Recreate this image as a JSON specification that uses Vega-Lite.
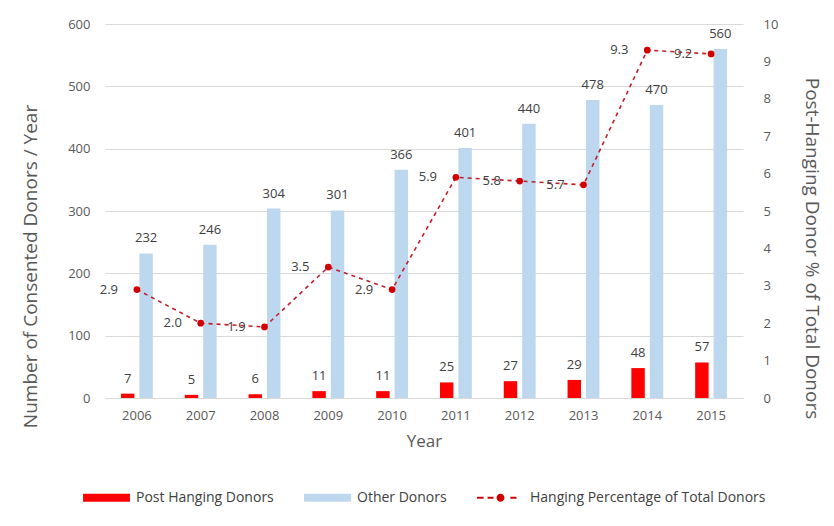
{
  "$schema": "https://vega.github.io/schema/vega-lite/v6.json",
  "width": 638,
  "height": 374,
  "autosize": {"type": "none"},
  "padding": {"left": 105, "top": 24, "right": 91, "bottom": 128},
  "background": "white",
  "config": {
    "font": "Open Sans",
    "view": {"stroke": null},
    "axis": {
      "labelFont": "Open Sans",
      "labelColor": "#595959",
      "labelFontSize": 13,
      "titleFont": "Open Sans",
      "titleColor": "#595959",
      "titleFontSize": 19,
      "titleFontWeight": "normal",
      "ticks": false,
      "domain": false,
      "grid": false
    },
    "legend": {
      "orient": "bottom",
      "direction": "horizontal",
      "layout": {"bottom": {"anchor": "middle"}},
      "labelFont": "Open Sans",
      "labelFontSize": 14,
      "labelColor": "#404040",
      "labelLimit": 400,
      "symbolSize": 2200,
      "symbolOpacity": 1,
      "symbolStrokeWidth": 0,
      "columnPadding": 30,
      "labelOffset": 6,
      "offset": 25
    }
  },
  "datasets": {
    "bars": [
      {"year": "2006", "series": "Post Hanging Donors", "count": 7},
      {"year": "2006", "series": "Other Donors", "count": 232},
      {"year": "2007", "series": "Post Hanging Donors", "count": 5},
      {"year": "2007", "series": "Other Donors", "count": 246},
      {"year": "2008", "series": "Post Hanging Donors", "count": 6},
      {"year": "2008", "series": "Other Donors", "count": 304},
      {"year": "2009", "series": "Post Hanging Donors", "count": 11},
      {"year": "2009", "series": "Other Donors", "count": 301},
      {"year": "2010", "series": "Post Hanging Donors", "count": 11},
      {"year": "2010", "series": "Other Donors", "count": 366},
      {"year": "2011", "series": "Post Hanging Donors", "count": 25},
      {"year": "2011", "series": "Other Donors", "count": 401},
      {"year": "2012", "series": "Post Hanging Donors", "count": 27},
      {"year": "2012", "series": "Other Donors", "count": 440},
      {"year": "2013", "series": "Post Hanging Donors", "count": 29},
      {"year": "2013", "series": "Other Donors", "count": 478},
      {"year": "2014", "series": "Post Hanging Donors", "count": 48},
      {"year": "2014", "series": "Other Donors", "count": 470},
      {"year": "2015", "series": "Post Hanging Donors", "count": 57},
      {"year": "2015", "series": "Other Donors", "count": 560}
    ],
    "pct": [
      {"year": "2006", "pct": 2.9},
      {"year": "2007", "pct": 2.0},
      {"year": "2008", "pct": 1.9},
      {"year": "2009", "pct": 3.5},
      {"year": "2010", "pct": 2.9},
      {"year": "2011", "pct": 5.9},
      {"year": "2012", "pct": 5.8},
      {"year": "2013", "pct": 5.7},
      {"year": "2014", "pct": 9.3},
      {"year": "2015", "pct": 9.2}
    ]
  },
  "layer": [
    {
      "data": {"name": "bars"},
      "encoding": {
        "x": {
          "field": "year",
          "type": "nominal",
          "scale": {"paddingInner": 0.5, "paddingOuter": 0.25},
          "axis": {
            "title": "Year",
            "titleFontSize": 17,
            "labelAngle": 0,
            "labelPadding": 11,
            "titlePadding": 11,
            "domain": true,
            "domainColor": "#d9d9d9"
          }
        },
        "xOffset": {
          "field": "series",
          "type": "nominal",
          "scale": {"domain": ["Post Hanging Donors", "Other Donors"], "paddingInner": 0.27}
        },
        "y": {
          "field": "count",
          "type": "quantitative",
          "scale": {"domain": [0, 600]},
          "axis": {
            "title": "Number of Consented Donors / Year",
            "values": [0, 100, 200, 300, 400, 500, 600],
            "grid": true,
            "gridColor": "#d9d9d9",
            "labelPadding": 15,
            "titlePadding": 27,
            "titleY": 242
          }
        }
      },
      "layer": [
        {
          "mark": {"type": "bar"},
          "encoding": {
            "color": {
              "field": "series",
              "type": "nominal",
              "scale": {
                "domain": ["Post Hanging Donors", "Other Donors", "Hanging Percentage of Total Donors"],
                "range": ["#ff0000", "#bdd7ee", "#d00000"]
              },
              "legend": {"title": null}
            }
          }
        },
        {
          "mark": {"type": "text", "baseline": "bottom", "dy": -8, "fontSize": 13, "color": "#404040", "font": "Open Sans"},
          "encoding": {"text": {"field": "count", "type": "quantitative"}}
        }
      ]
    },
    {
      "data": {"name": "pct"},
      "encoding": {
        "x": {"field": "year", "type": "nominal"},
        "y": {
          "field": "pct",
          "type": "quantitative",
          "scale": {"domain": [0, 10]},
          "axis": {
            "orient": "right",
            "title": "Post-Hanging Donor % of Total Donors",
            "values": [0, 1, 2, 3, 4, 5, 6, 7, 8, 9, 10],
            "labelPadding": 20,
            "titlePadding": 24,
            "titleY": 224
          }
        }
      },
      "layer": [
        {"mark": {"type": "line", "color": "#c41e2a", "strokeDash": [4, 4], "strokeWidth": 1.6}},
        {"mark": {"type": "point", "filled": true, "shape": "circle", "size": 45, "color": "#d00000", "opacity": 1}},
        {
          "mark": {"type": "text", "dx": -28, "baseline": "middle", "fontSize": 13, "color": "#404040", "font": "Open Sans"},
          "encoding": {"text": {"field": "pct", "type": "quantitative", "format": ".1f"}}
        },
        {
          "transform": [{"filter": "false"}],
          "mark": {"type": "point"},
          "encoding": {
            "shape": {
              "field": "series",
              "type": "nominal",
              "scale": {
                "domain": ["Post Hanging Donors", "Other Donors", "Hanging Percentage of Total Donors"],
                "range": [
                  "M-1,-0.17H1V0.17H-1Z",
                  "M-1,-0.17H1V0.17H-1Z",
                  "M-1,-0.045H-0.72V0.045H-1Z M-0.55,-0.045H-0.3V0.045H-0.55Z M0.42,-0.045H0.68V0.045H0.42Z M-0.17,0 A0.17,0.17 0 1,1 0.17,0 A0.17,0.17 0 1,1 -0.17,0Z"
                ]
              },
              "legend": {"title": null}
            }
          }
        }
      ]
    }
  ],
  "resolve": {"scale": {"y": "independent"}}
}
